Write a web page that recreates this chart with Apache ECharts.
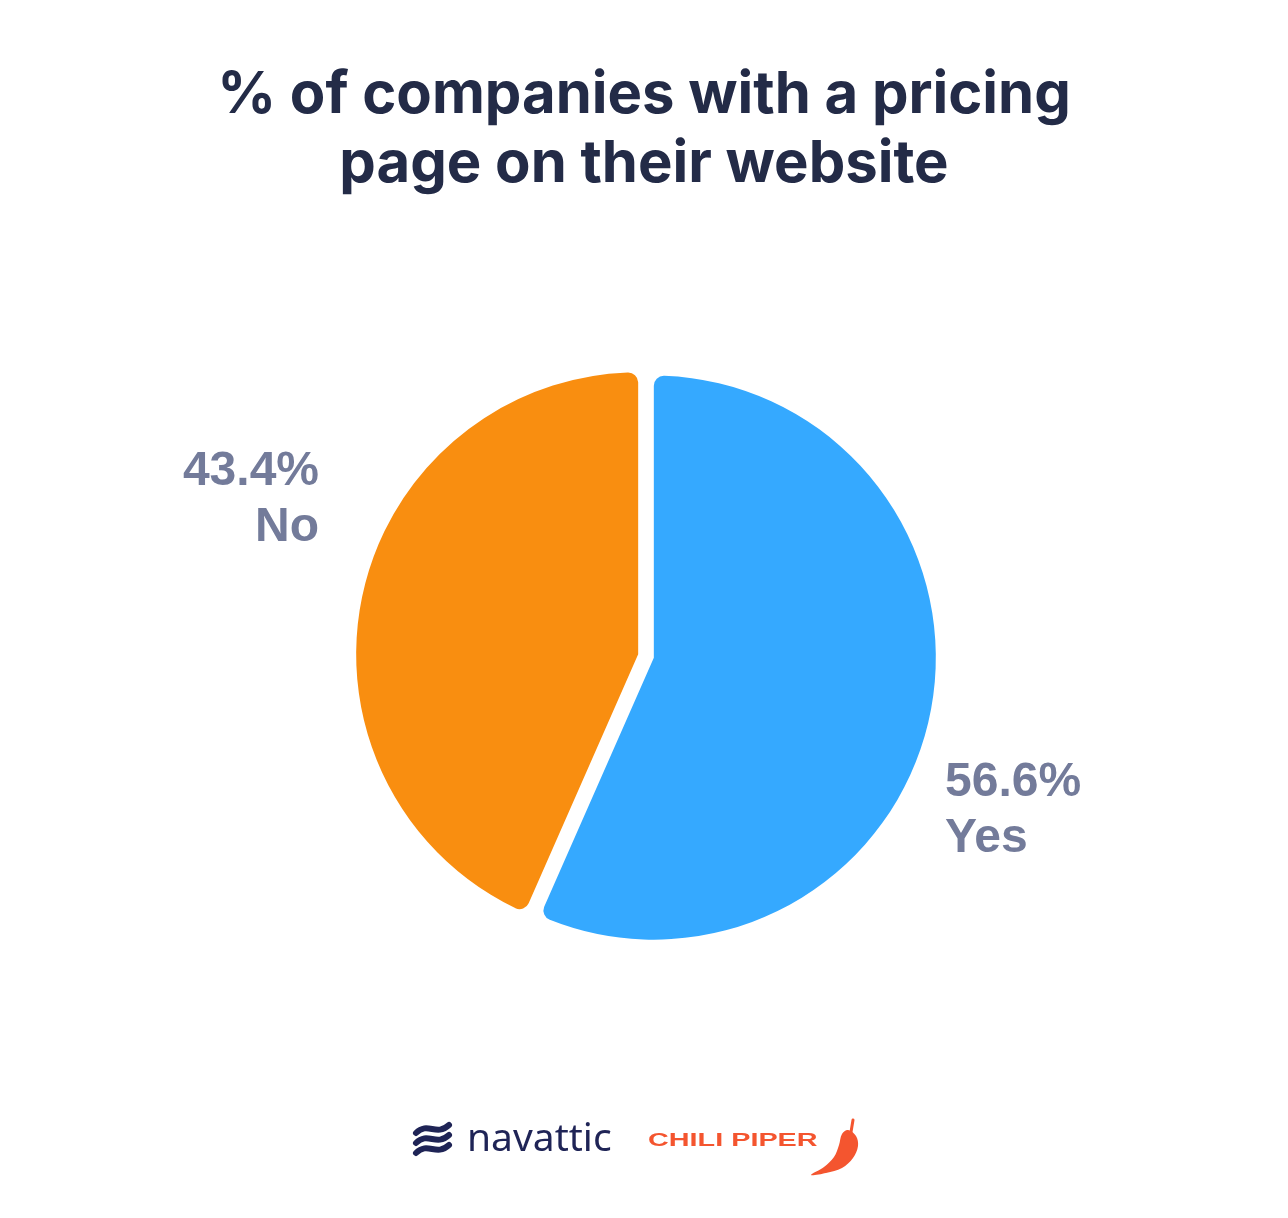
<!DOCTYPE html>
<html>
<head>
<meta charset="utf-8">
<script src="https://cdn.jsdelivr.net/npm/echarts@6/dist/echarts.min.js"></script>
<style>
html,body{margin:0;padding:0;background:#ffffff;}
#chart{width:1288px;height:1218px;}
</style>
</head>
<body>
<div id="chart"></div>
<script>
const titleText = '% of companies with a pricing\npage on their website';
const categories = ['Yes', 'No'];
const values = [56.6, 43.4];
const sliceColors = ['#35A9FF', '#F98E10'];

const chart = echarts.init(document.getElementById('chart'), null, {renderer: 'canvas'});

const pieData = categories.map((c, i) => ({
  name: c,
  value: values[i],
  selected: true,
  itemStyle: {color: sliceColors[i]},
  select: {itemStyle: {color: sliceColors[i]}}
}));

// slice labels, built from the data arrays
const labelPlacement = [
  {x: 945, y: 811, align: 'left'},
  {x: 319, y: 500, align: 'right'}
];
const labelGraphics = categories.map((c, i) => ({
  type: 'text',
  x: labelPlacement[i].x,
  y: labelPlacement[i].y,
  style: {
    text: values[i] + '%\n' + c,
    font: 'bold 48px "Liberation Sans"',
    lineHeight: 56,
    fill: '#737B9A',
    textAlign: labelPlacement[i].align,
    textVerticalAlign: 'middle'
  }
}));

function wave(y) {
  return {
    type: 'bezierCurve',
    shape: {x1: 416, y1: y + 8, cpx1: 428, cpy1: y - 4, cpx2: 436, cpy2: y + 12, x2: 449, y2: y},
    style: {fill: null, stroke: '#1F2456', lineWidth: 6, lineCap: 'round'}
  };
}

chart.setOption({
  backgroundColor: '#ffffff',
  animation: false,
  title: {
    text: titleText,
    left: 'center',
    top: 56,
    textStyle: {
      fontFamily: 'Inter',
      fontWeight: 700,
      fontSize: 58,
      lineHeight: 69,
      color: '#232B47'
    }
  },
  series: [{
    type: 'pie',
    center: [646, 656],
    radius: 282,
    startAngle: 90,
    clockwise: true,
    selectedMode: 'multiple',
    selectedOffset: 8,
    emphasis: {disabled: true},
    itemStyle: {borderRadius: 10},
    label: {show: false},
    labelLine: {show: false},
    data: pieData
  }],
  graphic: labelGraphics.concat([
    wave(1125), wave(1135), wave(1145),
    {type: 'text', x: 467, y: 1140, style: {text: 'navattic', font: '400 39px "Noto Sans"', fill: '#1F2456', textVerticalAlign: 'middle'}},
    {type: 'text', x: 648, y: 1141, scaleX: 1.6, style: {text: 'CHILI PIPER', font: '900 18px "Liberation Sans"', fill: '#F4552F', textVerticalAlign: 'middle'}},
    {type: 'line', shape: {x1: 853, y1: 1120, x2: 851, y2: 1132}, style: {stroke: '#F4552F', lineWidth: 3, lineCap: 'round'}},
    {type: 'polygon', shape: {smooth: 0.35, points: [[848, 1130], [856, 1136], [858, 1146], [853, 1158], [842, 1168], [826, 1173], [811, 1175], [824, 1167], [834, 1157], [839, 1145], [842, 1134]]}, style: {fill: '#F4552F'}}
  ])
});
</script>
</body>
</html>
